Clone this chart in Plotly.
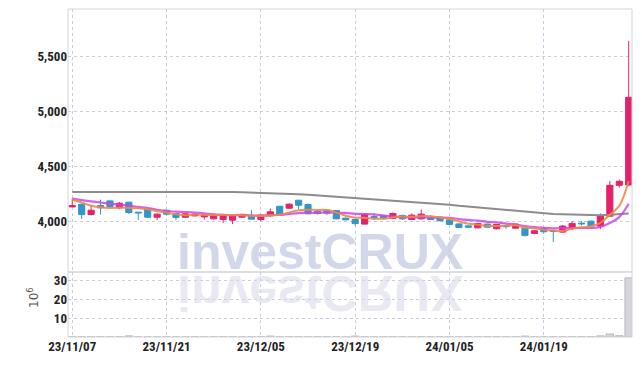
import plotly.graph_objects as go

# ---------------- data ----------------
dates = ["23/11/07", "23/11/08", "23/11/09", "23/11/10", "23/11/13", "23/11/14", "23/11/15", "23/11/16",
         "23/11/17", "23/11/20", "23/11/21", "23/11/22", "23/11/23", "23/11/24", "23/11/27", "23/11/28",
         "23/11/29", "23/11/30", "23/12/01", "23/12/04", "23/12/05", "23/12/06", "23/12/07", "23/12/08",
         "23/12/11", "23/12/12", "23/12/13", "23/12/14", "23/12/15", "23/12/18", "23/12/19", "23/12/20",
         "23/12/21", "23/12/22", "23/12/26", "23/12/27", "23/12/28", "24/01/02", "24/01/03", "24/01/04",
         "24/01/05", "24/01/08", "24/01/09", "24/01/10", "24/01/11", "24/01/12", "24/01/15", "24/01/16",
         "24/01/17", "24/01/18", "24/01/19", "24/01/22", "24/01/23", "24/01/24", "24/01/25", "24/01/26",
         "24/01/29", "24/01/30", "24/01/31", "24/02/01"]

opens = [4130, 4155, 4061, 4143, 4185, 4121, 4173, 4082, 4112, 4036,
         4100, 4070, 4036, 4048, 4039, 4021, 4015, 4009, 4036, 4048,
         4015, 4048, 4136, 4118, 4191, 4152, 4091, 4100, 4097, 4027,
         4015, 3973, 4043, 4052, 4024, 4052, 4015, 4021, 4030, 4036,
         4012, 3975, 3957, 3939, 3973, 3930, 3960, 3936, 3936, 3888,
         3933, 3915, 3900, 3942, 3982, 4000, 3955, 4045, 4327, 4330]
highs = [4206, 4158, 4140, 4197, 4188, 4175, 4176, 4084, 4115, 4070,
         4103, 4075, 4075, 4070, 4064, 4062, 4052, 4052, 4067, 4100,
         4060, 4115, 4140, 4160, 4195, 4161, 4100, 4110, 4100, 4036,
         4018, 4070, 4067, 4055, 4079, 4060, 4070, 4106, 4055, 4040,
         4015, 3980, 3960, 3985, 3978, 3975, 3965, 3978, 3940, 3918,
         3945, 3920, 3965, 4000, 4000, 4003, 4070, 4367, 4380, 5645]
lows = [4128, 4020, 4052, 4061, 4125, 4110, 4064, 4012, 4030, 4009,
        4055, 4010, 4030, 4045, 4015, 4015, 3982, 3973, 4030, 4015,
        4000, 4040, 4060, 4112, 4109, 4064, 4060, 4055, 4018, 4010,
        3957, 3970, 4012, 4020, 4018, 4010, 4012, 4015, 4010, 4000,
        3965, 3938, 3940, 3935, 3940, 3925, 3930, 3932, 3860, 3880,
        3888, 3809, 3895, 3918, 3960, 3955, 3927, 4040, 4306, 4320]
closes = [4142, 4060, 4100, 4121, 4133, 4164, 4079, 4076, 4036, 4064,
          4064, 4034, 4067, 4064, 4058, 4058, 4048, 4048, 4061, 4018,
          4055, 4085, 4064, 4155, 4145, 4067, 4070, 4073, 4021, 4012,
          3979, 4064, 4030, 4024, 4070, 4021, 4055, 4064, 4015, 4003,
          3970, 3942, 3945, 3979, 3945, 3970, 3950, 3973, 3870, 3912,
          3903, 3905, 3955, 3979, 3976, 3957, 4052, 4327, 4364, 5130]

ma_short = [4195, 4170, 4140, 4127, 4121, 4124, 4121, 4118, 4108, 4090,
            4078, 4062, 4055, 4058, 4057, 4056, 4058, 4055, 4055, 4048,
            4046, 4053, 4058, 4078, 4100, 4104, 4102, 4102, 4078, 4050,
            4032, 4030, 4022, 4023, 4033, 4042, 4040, 4047, 4045, 4032,
            4020, 3998, 3976, 3968, 3957, 3956, 3958, 3962, 3943, 3935,
            3922, 3914, 3910, 3930, 3944, 3954, 3985, 4058, 4140, 4366]
ma_mid = [4205, 4192, 4180, 4170, 4160, 4152, 4142, 4130, 4120, 4104,
          4092, 4087, 4083, 4078, 4071, 4062, 4057, 4054, 4057, 4052,
          4051, 4056, 4057, 4066, 4074, 4075, 4077, 4079, 4076, 4075,
          4067, 4065, 4062, 4050, 4042, 4037, 4035, 4034, 4033, 4033,
          4031, 4019, 4011, 4005, 3994, 3988, 3978, 3969, 3955, 3946,
          3939, 3935, 3936, 3936, 3939, 3938, 3948, 3983, 4037, 4159]
ma_long = [4265, 4265, 4266, 4266, 4267, 4267, 4268, 4268, 4269, 4269,
           4270, 4270, 4270, 4270, 4269, 4269, 4268, 4267, 4263, 4261,
           4258, 4255, 4252, 4249, 4245, 4240, 4234, 4227, 4222, 4216,
           4210, 4204, 4199, 4194, 4189, 4184, 4179, 4173, 4166, 4158,
           4150, 4140, 4132, 4124, 4116, 4108, 4100, 4092, 4084, 4076,
           4070, 4066, 4063, 4060, 4057, 4055, 4055, 4058, 4064, 4070]

volume_m = [0.15, 0.15, 0.15, 0.15, 0.15, 0.15, 0.6, 0.15, 0.15, 0.15,
            0.15, 0.15, 0.15, 0.15, 0.15, 0.15, 0.15, 0.15, 0.15, 0.15,
            0.15, 0.5, 0.15, 0.15, 0.15, 0.15, 0.15, 0.15, 0.15, 0.15,
            0.5, 0.15, 0.15, 0.15, 0.15, 0.15, 0.15, 0.15, 0.15, 0.15,
            0.15, 0.15, 0.15, 0.15, 0.15, 0.15, 0.15, 0.15, 0.5, 0.15,
            0.15, 0.15, 0.15, 0.15, 0.15, 0.15, 0.6, 1.6, 0.7, 31.3]

price_ticks = [4000, 4500, 5000, 5500]
volume_ticks = [10, 20, 30]
x_ticks = dates[0::10]
watermark = "investCRUX"
volume_unit = "10<sup>6</sup>"

# ---------------- styles ----------------
UP = "#e4226a"
DOWN = "#3196c9"
GRID = "#c9cce0"
FRAME = "#d2d2dc"
TICKFONT = dict(family="Roboto Condensed, Roboto, sans-serif",
                size=13, color="#222222", weight="bold")

fig = go.Figure()

fig.add_trace(go.Candlestick(
    x=dates, open=opens, high=highs, low=lows, close=closes,
    increasing=dict(line=dict(color=UP, width=1), fillcolor=UP),
    decreasing=dict(line=dict(color=DOWN, width=1), fillcolor=DOWN),
    whiskerwidth=0, xaxis="x", yaxis="y", showlegend=False, hoverinfo="skip"))

fig.add_trace(go.Scatter(x=dates, y=ma_long, mode="lines",
                         line=dict(color="#8c8c8c", width=2), xaxis="x", yaxis="y",
                         showlegend=False, hoverinfo="skip"))
fig.add_trace(go.Scatter(x=dates, y=ma_mid, mode="lines",
                         line=dict(color="rgba(205,70,232,0.85)", width=2.2, shape="spline"),
                         xaxis="x", yaxis="y", showlegend=False, hoverinfo="skip"))
fig.add_trace(go.Scatter(x=dates, y=ma_short, mode="lines",
                         line=dict(color="rgba(240,135,70,0.9)", width=2, shape="spline"),
                         xaxis="x", yaxis="y", showlegend=False, hoverinfo="skip"))

fig.add_trace(go.Bar(x=dates, y=volume_m, xaxis="x", yaxis="y2", width=0.8,
                     marker=dict(color="#d5d5dd", line=dict(color="#b9b9c3", width=1)),
                     showlegend=False, hoverinfo="skip"))

VOL_FRAC = 65 / 328
PLOT_W = 564

fig.update_layout(
    width=642, height=366,
    margin=dict(l=68, r=10, t=9, b=29, autoexpand=False),
    paper_bgcolor="white", plot_bgcolor="white",
    boxgap=0.35, boxgroupgap=0,
    xaxis=dict(type="category", anchor="y2", range=[-0.45, 59.35], automargin=False,
               rangeslider=dict(visible=False),
               tickmode="array", tickvals=x_ticks, ticktext=x_ticks,
               tickfont=TICKFONT, showgrid=True, gridcolor=GRID, griddash="dot",
               gridwidth=1, showline=False, zeroline=False, ticks="", ticklen=0),
    yaxis=dict(domain=[VOL_FRAC, 1], range=[3536, 5936], tickvals=price_ticks,
               automargin=False, tickformat=",", tickfont=TICKFONT, showgrid=True,
               gridcolor=GRID, griddash="dot", zeroline=False, showline=False, ticks=""),
    yaxis2=dict(domain=[0, VOL_FRAC], range=[0, 34.4], tickvals=volume_ticks,
                automargin=False, tickfont=TICKFONT, showgrid=True, gridcolor=GRID,
                griddash="dot", zeroline=False, showline=False, ticks=""),
    shapes=[
        dict(type="rect", xref="paper", yref="paper", x0=0, x1=1, y0=0, y1=1,
             line=dict(color=FRAME, width=1), layer="above"),
        dict(type="line", xref="paper", yref="paper", x0=0, x1=1, y0=VOL_FRAC, y1=VOL_FRAC,
             line=dict(color=FRAME, width=1.5), layer="above"),
    ],
    annotations=[
        dict(text=watermark, xref="paper", yref="paper", x=(319.5 - 68) / PLOT_W,
             y=(337 - 282) / 328, xanchor="center", yanchor="bottom", showarrow=False,
             font=dict(family="Liberation Sans, Arial, sans-serif", size=50,
                       color="rgba(195,202,227,0.75)", weight="bold")),
        dict(text=watermark, xref="paper", yref="paper", x=(319.5 - 68) / PLOT_W,
             y=(337 - 262.5) / 328, xanchor="center", yanchor="top", showarrow=False,
             font=dict(family="Liberation Sans, Arial, sans-serif", size=50,
                       color="rgba(217,218,235,0.6)", weight="bold")),
        dict(text=volume_unit, xref="paper", yref="paper", x=(33 - 68) / PLOT_W,
             y=(337 - 298) / 328, xanchor="center", yanchor="middle", showarrow=False,
             textangle=-90,
             font=dict(family="DejaVu Sans, sans-serif", size=12, color="#555")),
    ],
)

post = """
document.body.style.margin = '0';
document.body.style.padding = '0';
var gd = document.getElementById('{plot_id}');
function flipReflection(){
  var anns = gd.querySelectorAll('g.annotation');
  if (anns.length > 1) {
    var t = anns[1].querySelector('text');
    if (t) {
      t.style.transformBox = 'fill-box';
      t.style.transformOrigin = 'center';
      t.style.transform = 'scaleY(-1)';
    }
  }
}
flipReflection();
gd.on('plotly_afterplot', flipReflection);
"""

fig.write_html("out.html", post_script=post, config={"displayModeBar": False})
